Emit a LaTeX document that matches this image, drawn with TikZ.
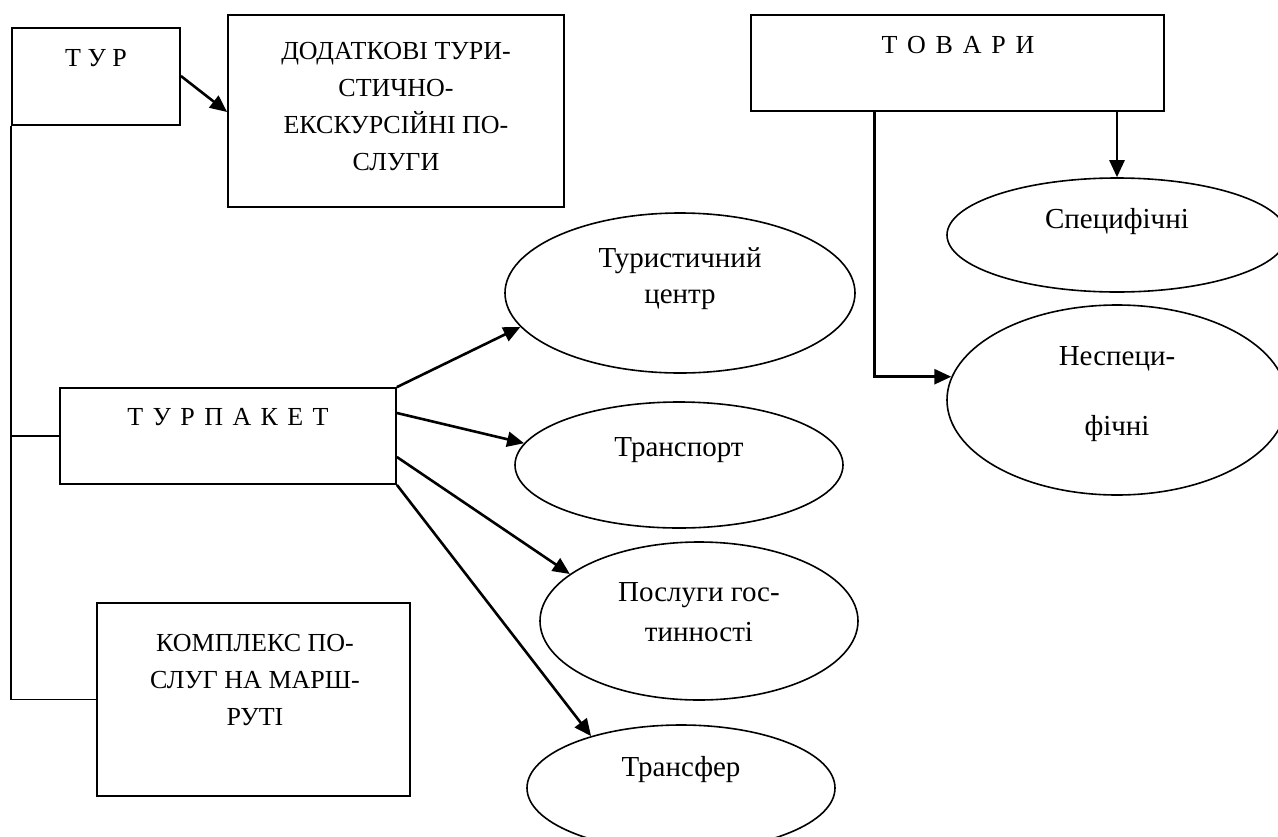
\documentclass[tikz,border=0pt]{standalone}
\usepackage{fontspec}
\setmainfont{Liberation Serif}
\usetikzlibrary{shapes.geometric,arrows.meta}

\begin{document}
\begin{tikzpicture}[x=1pt,y=-1pt,
  box/.style={draw, line width=1.8pt, inner sep=0pt},
  oval/.style={draw, ellipse, line width=1.6pt, inner sep=0pt},
  small/.style={inner sep=0pt, align=center, font=\fontsize{26}{36.7}\selectfont},
  big/.style={inner sep=0pt, align=center, font=\fontsize{29}{36}\selectfont},
  arr/.style={line width=2.6pt, -{Triangle[length=17pt,width=15pt]}},
  link/.style={line width=1.8pt},
]
\useasboundingbox (0,0) rectangle (1278,836);

% rectangular blocks
\node[box, minimum width=168pt, minimum height=97pt] (tur) at (96,76.5) {};
\node[small] (turt) at (96,58.5) {Т У Р};

\node[box, minimum width=336pt, minimum height=192pt] (dod) at (396,111) {};
\node[small] (dodt) at (396,106.5) {ДОДАТКОВІ ТУРИ-\\СТИЧНО-\\ЕКСКУРСІЙНІ ПО-\\СЛУГИ};

\node[box, minimum width=336pt, minimum height=96pt] (tp) at (228,436) {};
\node[small] (tpt) at (228,417) {Т\hspace{9.4pt}У\hspace{9.4pt}Р\hspace{9.4pt}П\hspace{9.4pt}А\hspace{9.4pt}К\hspace{9.4pt}Е\hspace{9.4pt}Т};

\node[box, minimum width=313pt, minimum height=193pt] (kp) at (253.5,699.5) {};
\node[small] (kpt) at (255,680) {КОМПЛЕКС ПО-\\СЛУГ НА МАРШ-\\РУТІ};

\node[box, minimum width=413pt, minimum height=96pt] (tov) at (957.5,63) {};
\node[small] (tovt) at (958,45) {Т\hspace{9.8pt}О\hspace{9.8pt}В\hspace{9.8pt}А\hspace{9.8pt}Р\hspace{9.8pt}И};

% oval blocks
\node[oval, minimum width=350pt, minimum height=160pt] (tc) at (680,293) {};
\node[big] (tct) at (680,278.5) {Туристичний\\центр};

\node[oval, minimum width=328pt, minimum height=126pt] (tr) at (679,465) {};
\node[big] (trt) at (679,450) {Транспорт};

\node[oval, minimum width=318pt, minimum height=158pt] (pg) at (699,621) {};
\node[big, font=\fontsize{29}{40}\selectfont] (pgt) at (699,612) {Послуги гос-\\тинності};

\node[oval, minimum width=308pt, minimum height=126pt] (tf) at (681,788) {};
\node[big] (tft) at (681,770) {Трансфер};

\node[oval, minimum width=340pt, minimum height=114pt] (sp) at (1117,235) {};
\node[big] (spt) at (1117,222) {Специфічні};

\node[oval, minimum width=340pt, minimum height=190pt] (nsp) at (1117,400) {};
\node[big, font=\fontsize{29}{70}\selectfont] (nspt) at (1117,394) {Неспеци-\\фічні};

% connectors
\draw[link] (tur.south west) |- (tp.west);
\draw[link] (tur.south west) |- (kp.west);
\draw[arr] ([yshift=0.5pt]tur.east) -- ([yshift=-1pt]dod.west);

\draw[arr] (tp.north east) -- (tc.192);
\draw[arr] ([yshift=23pt]tp.east) -- (tr.172);
\draw[arr] ([yshift=-21pt]tp.east) -- (pg.160);
\draw[arr] (tp.south east) -- (tf.150);

\draw[arr] (sp.north |- tov.south) -- (sp.north);
\draw[arr] ([xshift=-83pt]tov.south) |- (nsp.172);
\end{tikzpicture}
\end{document}
